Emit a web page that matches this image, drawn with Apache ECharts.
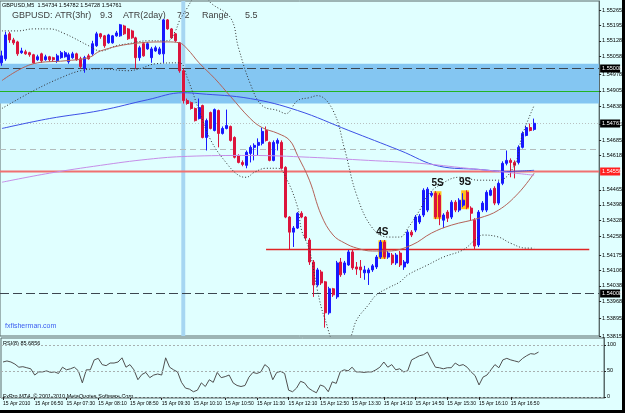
<!DOCTYPE html>
<html>
<head>
<meta charset="utf-8">
<title>GBPUSD M5</title>
<script src="https://cdn.jsdelivr.net/npm/echarts@6/dist/echarts.min.js"></script>
<style>
html, body { margin: 0; padding: 0; background: #e0ffff; }
#chart { width: 625px; height: 413px; }
</style>
</head>
<body>
<div id="chart"></div>
<script>
// M5 bars, first bar 06:10
var firstBarMinute = 6 * 60 + 10;
var slotCount = 152;
var xTickLabels = ['15 Apr 2010', '15 Apr 06:50', '15 Apr 07:30', '15 Apr 08:10', '15 Apr 08:50', '15 Apr 09:30',
	'15 Apr 10:10', '15 Apr 10:50', '15 Apr 11:30', '15 Apr 12:10', '15 Apr 12:50', '15 Apr 13:30',
	'15 Apr 14:10', '15 Apr 14:50', '15 Apr 15:30', '15 Apr 16:10', '15 Apr 16:50'];
var priceTicks = [1.55265, 1.55195, 1.55128, 1.55058, 1.54978, 1.54905, 1.54838, 1.54755, 1.54685, 1.54618,
	1.54465, 1.54398, 1.54328, 1.54258, 1.54175, 1.54106, 1.54038, 1.53968, 1.53895, 1.53815];
var priceMin = 1.53815, priceMax = 1.55305;

var opens = [1.55030,1.55048,1.55159,1.55132,1.55123,1.55075,1.55079,1.55075,1.55066,1.55044,
	1.55070,1.55044,1.55057,1.55053,1.55039,1.55053,1.55057,1.55035,1.55053,1.55070,
	1.55048,1.55004,1.55061,1.55070,1.55106,1.55159,1.55150,1.55119,1.55119,1.55150,
	1.55150,1.55194,1.55181,1.55172,1.55141,1.55053,1.55115,1.55092,1.55053,1.55083,
	1.55070,1.55070,1.55221,1.55181,1.55159,1.55119,1.54995,1.54862,1.54853,1.54827,
	1.54782,1.54840,1.54698,1.54809,1.54729,1.54818,1.54716,1.54738,1.54747,1.54698,
	1.54618,1.54587,1.54574,1.54627,1.54654,1.54663,1.54672,1.54729,1.54676,1.54596,
	1.54672,1.54676,1.54565,1.54344,1.54277,1.54295,1.54361,1.54344,1.54242,1.54144,
	1.54042,1.54100,1.54056,1.53918,1.54025,1.53989,1.54144,1.54096,1.54131,1.54189,
	1.54122,1.54122,1.54096,1.54096,1.54109,1.54122,1.54166,1.54233,1.54166,1.54175,
	1.54140,1.54184,1.54122,1.54140,1.54277,1.54286,1.54322,1.54353,1.54375,1.54441,
	1.54450,1.54441,1.54330,1.54366,1.54344,1.54410,1.54375,1.54397,1.54454,1.54384,
	1.54330,1.54220,1.54375,1.54375,1.54441,1.54472,1.54406,1.54494,1.54583,1.54596,
	1.54587,1.54587,1.54654,1.54707,1.54742,1.54734];
var closes = [1.55061,1.55154,1.55132,1.55119,1.55070,1.55083,1.55070,1.55066,1.55030,1.55057,
	1.55039,1.55057,1.55044,1.55044,1.55061,1.55075,1.55075,1.55066,1.55070,1.55044,
	1.55013,1.55053,1.55048,1.55115,1.55159,1.55146,1.55106,1.55154,1.55150,1.55163,
	1.55199,1.55159,1.55137,1.55141,1.55053,1.55097,1.55061,1.55115,1.55092,1.55097,
	1.55092,1.55221,1.55181,1.55141,1.55128,1.54995,1.54862,1.54849,1.54827,1.54773,
	1.54831,1.54698,1.54773,1.54738,1.54822,1.54716,1.54738,1.54751,1.54685,1.54610,
	1.54587,1.54578,1.54632,1.54654,1.54663,1.54676,1.54725,1.54685,1.54596,1.54676,
	1.54685,1.54561,1.54344,1.54277,1.54295,1.54361,1.54344,1.54251,1.54144,1.54042,
	1.54109,1.54051,1.53918,1.54025,1.53998,1.54140,1.54087,1.54140,1.54189,1.54118,
	1.54113,1.54109,1.54109,1.54109,1.54127,1.54166,1.54233,1.54166,1.54184,1.54140,
	1.54175,1.54131,1.54144,1.54277,1.54264,1.54344,1.54348,1.54463,1.54468,1.54450,
	1.54344,1.54344,1.54353,1.54339,1.54410,1.54375,1.54419,1.54419,1.54388,1.54361,
	1.54215,1.54366,1.54406,1.54454,1.54463,1.54406,1.54494,1.54583,1.54596,1.54587,
	1.54574,1.54654,1.54716,1.54742,1.54729,1.54761];
var lows = [1.55017,1.55039,1.55119,1.55110,1.55061,1.55070,1.55066,1.55057,1.55026,1.55039,
	1.55030,1.55039,1.55035,1.55035,1.55030,1.55048,1.55053,1.55026,1.55048,1.55039,
	1.55004,1.54986,1.55044,1.55061,1.55101,1.55137,1.55097,1.55115,1.55115,1.55146,
	1.55146,1.55154,1.55132,1.55137,1.55004,1.55039,1.55057,1.55088,1.55030,1.55079,
	1.55066,1.55030,1.55177,1.55137,1.55123,1.54986,1.54849,1.54844,1.54822,1.54769,
	1.54778,1.54694,1.54640,1.54734,1.54725,1.54654,1.54711,1.54734,1.54680,1.54605,
	1.54583,1.54570,1.54561,1.54587,1.54596,1.54618,1.54663,1.54680,1.54592,1.54592,
	1.54640,1.54556,1.54339,1.54198,1.54211,1.54291,1.54339,1.54242,1.54131,1.53989,
	1.54034,1.54042,1.53852,1.53910,1.53989,1.53980,1.54078,1.54087,1.54127,1.54109,
	1.54087,1.54073,1.54065,1.54042,1.54100,1.54113,1.54158,1.54158,1.54158,1.54131,
	1.54131,1.54122,1.54109,1.54135,1.54255,1.54277,1.54313,1.54344,1.54366,1.54432,
	1.54335,1.54308,1.54295,1.54322,1.54335,1.54366,1.54366,1.54388,1.54379,1.54330,
	1.54202,1.54211,1.54366,1.54366,1.54437,1.54397,1.54397,1.54486,1.54574,1.54521,
	1.54516,1.54578,1.54649,1.54703,1.54725,1.54728];
var highs = [1.55084,1.55168,1.55168,1.55141,1.55128,1.55097,1.55088,1.55079,1.55070,1.55066,
	1.55075,1.55066,1.55061,1.55057,1.55070,1.55083,1.55083,1.55075,1.55079,1.55075,
	1.55057,1.55061,1.55070,1.55128,1.55168,1.55163,1.55154,1.55159,1.55154,1.55172,
	1.55203,1.55199,1.55185,1.55177,1.55146,1.55106,1.55119,1.55123,1.55101,1.55106,
	1.55101,1.55225,1.55225,1.55185,1.55163,1.55123,1.55004,1.54871,1.54858,1.54831,
	1.54871,1.54844,1.54782,1.54813,1.54827,1.54822,1.54747,1.54822,1.54751,1.54703,
	1.54623,1.54596,1.54640,1.54663,1.54672,1.54694,1.54742,1.54747,1.54680,1.54685,
	1.54694,1.54685,1.54570,1.54348,1.54304,1.54366,1.54370,1.54348,1.54251,1.54153,
	1.54118,1.54109,1.54060,1.54034,1.54029,1.54149,1.54162,1.54149,1.54198,1.54198,
	1.54144,1.54153,1.54127,1.54118,1.54135,1.54175,1.54242,1.54242,1.54193,1.54184,
	1.54184,1.54193,1.54153,1.54286,1.54286,1.54353,1.54357,1.54472,1.54477,1.54459,
	1.54459,1.54450,1.54361,1.54375,1.54419,1.54419,1.54428,1.54450,1.54463,1.54392,
	1.54339,1.54375,1.54415,1.54463,1.54472,1.54481,1.54503,1.54592,1.54640,1.54605,
	1.54596,1.54663,1.54725,1.54751,1.54760,1.54782];

// indicator lines: [bar, price]
var bandUpper = [[0,1.55172],[4,1.55172],[8,1.55181],[12,1.55181],[16,1.55159],[22,1.55106],[25,1.55083],[29,1.55106],
	[32,1.55115],[37,1.55128],[42,1.55128],[44,1.55172],[45,1.55216],[47,1.55274],[49,1.55327],[51,1.55340],[53,1.55296],
	[58,1.55230],[60,1.55097],[63,1.54937],[66,1.54840],[70,1.54818],[72,1.54804],[75,1.54862],[78,1.54875],[80,1.54884],
	[84,1.54818],[87,1.54641],[90,1.54441],[94,1.54295],[98,1.54255],[101,1.54255],[103,1.54295],[106,1.54375],[108,1.54441],
	[111,1.54486],[116,1.54521],[121,1.54508],[126,1.54508],[130,1.54574],[132,1.54707],[135,1.54840]];
var bandLower = [[0,1.54827],[8,1.54906],[15,1.54964],[20,1.54995],[25,1.55004],[32,1.54995],[35,1.55004],[39,1.55026],
	[45,1.55030],[47,1.54964],[50,1.54818],[53,1.54685],[57,1.54583],[60,1.54530],[62,1.54521],[64,1.54543],[67,1.54561],
	[70,1.54561],[72,1.54521],[75,1.54388],[76,1.54286],[78,1.54198],[80,1.54020],[82,1.53887],[85,1.53777],[88,1.53799],
	[90,1.53887],[93,1.53954],[95,1.53998],[98,1.54029],[101,1.54056],[103,1.54087],[108,1.54131],[112,1.54166],[117,1.54198],
	[120,1.54242],[122,1.54264],[126,1.54255],[129,1.54228],[133,1.54206],[135,1.54206]];
var maFast = [[0,1.54951],[8,1.55026],[16,1.55039],[22,1.55053],[25,1.55083],[33,1.55115],[42,1.55123],[45,1.55119],
	[47,1.55092],[50,1.55030],[54,1.54960],[58,1.54880],[63,1.54782],[66,1.54742],[70,1.54716],[73,1.54685],[75,1.54618],
	[78,1.54508],[81,1.54353],[84,1.54264],[87,1.54228],[90,1.54206],[94,1.54193],[98,1.54193],[104,1.54220],[109,1.54273],
	[114,1.54308],[121,1.54339],[126,1.54375],[131,1.54450],[135,1.54539]];
var maMid = [[0,1.54738],[12,1.54782],[25,1.54818],[37,1.54866],[46,1.54897],[50,1.54893],[63,1.54871],[75,1.54818],
	[88,1.54729],[101,1.54640],[111,1.54570],[121,1.54556],[128,1.54547],[135,1.54552]];
var maSlow = [[0,1.54499],[12,1.54539],[25,1.54574],[37,1.54601],[47,1.54614],[63,1.54618],[78,1.54610],[93,1.54596],
	[106,1.54583],[118,1.54561],[126,1.54547],[135,1.54530]];

var rsiValues = [67,69,67,63,57,58,56,54,42,48,48,50,47,48,45,57,52,54,57,50,
	27,52,52,71,74,62,60,65,65,67,75,57,62,52,33,43,47,37,42,44,
	42,75,57,52,48,28,17,15,10,13,27,20,33,28,47,37,39,42,27,22,
	20,22,38,47,45,48,62,56,33,47,49,45,13,10,17,30,27,17,12,8,
	23,20,10,29,26,48,52,50,57,48,48,47,48,48,52,57,67,57,62,52,
	54,48,50,71,75,79,81,86,71,57,56,54,56,56,65,60,62,57,48,41,
	23,38,42,52,62,56,71,74,71,69,67,74,79,83,82,86];
var rsiTicks = [100, 50, 0];
var rsiLevels = [100, 50, 0];

// levels and marked zones
var zoneTop = 1.55026, zoneBottom = 1.54849;
var dashLevels = [1.55008, 1.54008];
var greenLevel = 1.54906;
var bidPrice = 1.54761;
var grayDashLevel = 1.54645;
var redLevel = 1.54550;
var supportLevel = 1.54202, supportFrom = 67, supportTo = 149;
var stripeBar = 46;
var sigBars = [[96, 97], [110, 111], [117, 118]];
var sigTop = [1.54241, 1.54459, 1.54463];
var sigBottom = [1.54158, 1.54335, 1.54379];
var sigLabels = ['4S', '5S', '9S'];

var barTimes = [];
for (var i = 0; i < slotCount; i++) {
	var m = firstBarMinute + i * 5;
	barTimes.push(('0' + Math.floor(m / 60)).slice(-2) + ':' + ('0' + (m % 60)).slice(-2));
}
var candles = [];
for (var i = 0; i < opens.length; i++) {
	candles.push([opens[i], closes[i], lows[i], highs[i]]);
}
var sigData = [];
for (var i = 0; i < sigBars.length; i++) {
	sigData.push([sigBars[i][0], sigBars[i][1], sigTop[i], sigBottom[i]]);
}

// horizontal objects, drawn by a custom series so each keeps its own style
var levelSpecs = [
	{price: grayDashLevel, color: '#b4bcbc', width: 1, dash: [6, 4]},
	{price: bidPrice, color: '#b8c0c0', width: 1, dash: [1, 2], box: '#000'},
	{price: dashLevels[0], color: '#3c4650', width: 1, dash: [9, 4], box: '#000'},
	{price: dashLevels[1], color: '#3c4650', width: 1, dash: [9, 4], box: '#000'},
	{price: greenLevel, color: '#22b422', width: 1},
	{price: redLevel, color: '#f07070', width: 2, box: '#ff2020'},
	{price: supportLevel, from: supportFrom, to: supportTo, color: '#e02424', width: 1.5}
];
var levelData = [];
for (var i = 0; i < levelSpecs.length; i++) {
	levelData.push([i, levelSpecs[i].price]);
}

var smallFont = '"Liberation Sans Narrow", "Liberation Sans", sans-serif';
var axisColor = '#5a6a6a';

function tickShown(index) {
	return index % 8 === 0 && index / 8 < xTickLabels.length;
}

var Chart1 = echarts.init(document.getElementById('chart'));

var option1 = {
	backgroundColor: '#e0ffff',
	animation: false,
	grid: [
		{left: 0, top: 1, width: 604, height: 335, show: true, borderColor: axisColor, borderWidth: 1},
		{left: 0, top: 338, width: 604, height: 60, show: true, borderColor: axisColor, borderWidth: 1}
	],
	xAxis: [
		{
			type: 'category', gridIndex: 0, data: barTimes,
			axisLine: {show: false}, axisTick: {show: false}, axisLabel: {show: false}
		},
		{
			type: 'category', gridIndex: 1, data: barTimes,
			axisLine: {show: true, lineStyle: {color: axisColor}},
			axisTick: {show: true, alignWithLabel: true, interval: tickShown, length: 3, lineStyle: {color: '#222'}},
			axisLabel: {
				interval: tickShown, align: 'left', margin: 3, fontSize: 5, fontFamily: smallFont, color: '#000',
				formatter: function (v, idx) { return xTickLabels[idx / 8]; }
			}
		}
	],
	yAxis: [
		{
			type: 'value', gridIndex: 0, position: 'right', min: priceMin, max: priceMax,
			splitLine: {show: false},
			axisLine: {show: true, lineStyle: {color: axisColor}},
			axisTick: {show: true, customValues: priceTicks, length: 2, lineStyle: {color: '#222'}},
			axisLabel: {
				customValues: priceTicks, margin: 3, fontSize: 5.5, fontFamily: smallFont, color: '#000',
				formatter: function (v) { return v.toFixed(5); }
			}
		},
		{
			type: 'value', gridIndex: 1, position: 'right', min: -2, max: 113,
			splitLine: {show: false},
			axisLine: {show: true, lineStyle: {color: axisColor}},
			axisTick: {show: true, customValues: rsiTicks, length: 2, lineStyle: {color: '#222'}},
			axisLabel: {customValues: rsiTicks, margin: 3, fontSize: 5.5, fontFamily: smallFont, color: '#000'}
		}
	],
	series: [
		{
			// supply/demand zone
			type: 'custom', xAxisIndex: 0, yAxisIndex: 0, z: 0, silent: true,
			data: [[0, zoneTop, zoneBottom]],
			renderItem: function (params, api) {
				var a = api.coord([0, api.value(1)]);
				var b = api.coord([0, api.value(2)]);
				var cs = params.coordSys;
				return {type: 'rect', shape: {x: cs.x, y: a[1], width: cs.width, height: b[1] - a[1]},
					style: {fill: '#84c6f2'}};
			}
		},
		{
			// session marker
			type: 'custom', xAxisIndex: 0, yAxisIndex: 0, z: 1, silent: true,
			data: [[stripeBar]],
			renderItem: function (params, api) {
				var x = api.coord([api.value(0), priceMin])[0];
				var w = api.size([1, 0])[0];
				var cs = params.coordSys;
				return {type: 'rect', shape: {x: x - w / 2, y: cs.y, width: w, height: cs.height},
					style: {fill: '#a6d6f2'}};
			}
		},
		{
			// signal highlights
			type: 'custom', xAxisIndex: 0, yAxisIndex: 0, z: 2, silent: true,
			data: sigData,
			renderItem: function (params, api) {
				var p1 = api.coord([api.value(0), api.value(2)]);
				var p2 = api.coord([api.value(1), api.value(3)]);
				var w = api.size([1, 0])[0];
				return {
					type: 'group',
					children: [
						{type: 'rect', shape: {x: p1[0] - w / 2, y: p1[1], width: p2[0] - p1[0] + w, height: p2[1] - p1[1]},
							style: {fill: '#ffc21a'}},
						{type: 'text', z2: 10, style: {text: sigLabels[params.dataIndex], x: (p1[0] + p2[0]) / 2, y: p1[1] - 3,
							align: 'center', verticalAlign: 'bottom', font: 'bold 10px "Liberation Sans", sans-serif', fill: '#111'}}
					]
				};
			}
		},
		{
			// horizontal lines with price boxes on the scale
			type: 'custom', xAxisIndex: 0, yAxisIndex: 0, z: 2, silent: true,
			data: levelData,
			renderItem: function (params, api) {
				var s = levelSpecs[params.dataIndex];
				var cs = params.coordSys;
				var y = Math.round(api.coord([0, api.value(1)])[1]) + 0.5;
				var x1 = cs.x, x2 = cs.x + cs.width;
				if (s.from != null) {
					x1 = api.coord([s.from, api.value(1)])[0];
					x2 = api.coord([s.to, api.value(1)])[0];
				}
				var children = [{type: 'line', shape: {x1: x1, y1: y, x2: x2, y2: y},
					style: {stroke: s.color, lineWidth: s.width, lineDash: s.dash || null}}];
				if (s.box) {
					children.push({type: 'rect', shape: {x: cs.x + cs.width + 1, y: y - 4, width: 20, height: 8},
						style: {fill: s.box}});
					children.push({type: 'text', style: {text: s.price.toFixed(5), x: cs.x + cs.width + 3, y: y,
						verticalAlign: 'middle', font: '5.5px ' + smallFont, fill: '#fff'}});
				}
				return {type: 'group', children: children};
			}
		},
		{
			name: 'GBPUSD', type: 'candlestick', xAxisIndex: 0, yAxisIndex: 0, z: 3,
			barWidth: 2.5,
			data: candles,
			itemStyle: {color: '#1818ff', color0: '#dc143c', borderColor: '#1818ff', borderColor0: '#dc143c', borderWidth: 1}
		},
		{
			name: 'upper', type: 'line', xAxisIndex: 0, yAxisIndex: 0, z: 4, data: bandUpper,
			showSymbol: false, smooth: 0.4, silent: true,
			lineStyle: {color: '#333', width: 1, type: [1, 2]}
		},
		{
			name: 'lower', type: 'line', xAxisIndex: 0, yAxisIndex: 0, z: 4, data: bandLower,
			showSymbol: false, smooth: 0.4, silent: true,
			lineStyle: {color: '#333', width: 1, type: [1, 2]}
		},
		{
			name: 'fast', type: 'line', xAxisIndex: 0, yAxisIndex: 0, z: 4, data: maFast,
			showSymbol: false, smooth: 0.4, silent: true,
			lineStyle: {color: '#b46258', width: 1}
		},
		{
			name: 'mid', type: 'line', xAxisIndex: 0, yAxisIndex: 0, z: 4, data: maMid,
			showSymbol: false, smooth: 0.4, silent: true,
			lineStyle: {color: '#3c50e6', width: 1}
		},
		{
			name: 'slow', type: 'line', xAxisIndex: 0, yAxisIndex: 0, z: 4, data: maSlow,
			showSymbol: false, smooth: 0.4, silent: true,
			lineStyle: {color: '#c68ee8', width: 1}
		},
		{
			name: 'RSI', type: 'line', xAxisIndex: 1, yAxisIndex: 1, data: rsiValues,
			showSymbol: false, silent: true,
			lineStyle: {color: '#505050', width: 1},
			markLine: {
				symbol: ['none', 'none'], silent: true, animation: false, label: {show: false},
				lineStyle: {color: '#a8b0b0', width: 1, type: [2, 2]},
				data: rsiLevels.map(function (v) { return {yAxis: v}; })
			}
		}
	],
	graphic: [
		{type: 'text', left: 2, top: 2, silent: true,
			style: {text: 'GBPUSD,M5  1.54734 1.54782 1.54728 1.54761', font: '5.5px ' + smallFont, fill: '#000'}},
		{type: 'text', left: 12, top: 11, silent: true, style: {text: 'GBPUSD: ATR(3hr)', font: '9px "Liberation Sans", sans-serif', fill: '#404040'}},
		{type: 'text', left: 100, top: 11, silent: true, style: {text: '9.3', font: '9px "Liberation Sans", sans-serif', fill: '#404040'}},
		{type: 'text', left: 123, top: 11, silent: true, style: {text: 'ATR(2day)', font: '9px "Liberation Sans", sans-serif', fill: '#404040'}},
		{type: 'text', left: 177, top: 11, silent: true, style: {text: '7.2', font: '9px "Liberation Sans", sans-serif', fill: '#404040'}},
		{type: 'text', left: 202, top: 11, silent: true, style: {text: 'Range', font: '9px "Liberation Sans", sans-serif', fill: '#404040'}},
		{type: 'text', left: 245, top: 11, silent: true, style: {text: '5.5', font: '9px "Liberation Sans", sans-serif', fill: '#404040'}},
		{type: 'text', left: 5, top: 323, silent: true, style: {text: 'fxfisherman.com', font: '7px "Liberation Sans", sans-serif', fill: '#3a5cf0'}},
		{type: 'text', left: 3, top: 340, silent: true, style: {text: 'RSI(8) 85.6856', font: '5.5px ' + smallFont, fill: '#000'}},
		{type: 'text', left: 3, top: 393, silent: true, style: {text: 'FxPro MT4, \u00a9 2001-2010 MetaQuotes Software Corp.', font: '5.5px ' + smallFont, fill: '#000'}},
		{type: 'rect', right: 0, top: 0, silent: true, shape: {width: 3, height: 413}, style: {fill: '#000'}},
		{type: 'rect', left: 0, bottom: 0, silent: true, shape: {width: 625, height: 3}, style: {fill: '#000'}}
	]
};

Chart1.setOption(option1);
</script>
</body>
</html>
